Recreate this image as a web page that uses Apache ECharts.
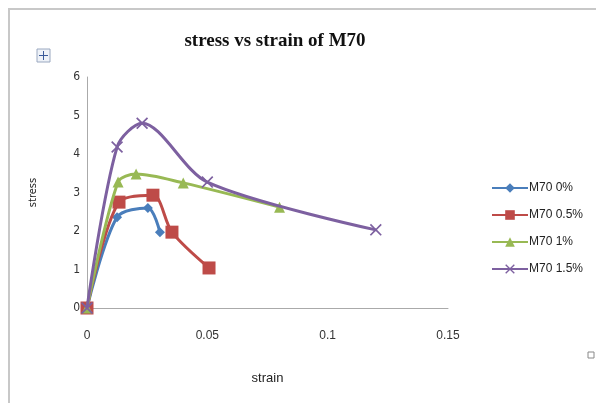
<!DOCTYPE html>
<html><head><meta charset="utf-8">
<script src="https://cdn.jsdelivr.net/npm/echarts@6/dist/echarts.min.js"></script>
<style>html,body{margin:0;padding:0;background:#fff}#c{width:596px;height:403px}</style>
</head><body><div id="c"></div>
<script>
const seriesNames = ['M70 0%', 'M70 0.5%', 'M70 1%', 'M70 1.5%'];
const m70_0 = [[0,0],[0.0125,2.36],[0.0253,2.6],[0.0303,1.97]];
const m70_05 = [[0,0],[0.0133,2.75],[0.0274,2.93],[0.0353,1.97],[0.0507,1.04]];
const m70_1 = [[0,0],[0.0129,3.27],[0.0204,3.48],[0.040,3.25],[0.080,2.62]];
const m70_15 = [[0,0],[0.0125,4.18],[0.0229,4.8],[0.050,3.27],[0.120,2.03]];
const xTicks = [0, 0.05, 0.1, 0.15];
const yTicks = [0,1,2,3,4,5,6];

const colors = ['#4a7ebb','#be4b48','#98b954','#7d60a0'];
const xPath = 'path://M0,1L1,0L5,4L9,0L10,1L6,5L10,9L9,10L5,6L1,10L0,9L4,5Z';
const symbols = ['diamond','rect','triangle',xPath];
const sizes = [10,13,11,12];
const datas = [m70_0, m70_05, m70_1, m70_15];
const narrow = "'DejaVu Sans Condensed', 'Liberation Sans', sans-serif";

const chart = echarts.init(document.getElementById('c'));
chart.setOption({
  animation:false,
  backgroundColor:'#fff',
  title:{text:'stress vs strain of M70', left:270, top:27, textAlign:'center',
    textStyle:{fontFamily:'Liberation Serif', fontWeight:'bold', fontSize:19, color:'#111'}},
  legend:{orient:'vertical', left:486, top:177, itemGap:15, itemWidth:36, itemHeight:12,
    data: seriesNames,
    textStyle:{fontFamily:'Liberation Sans', fontSize:12, color:'#222', padding:[0,0,0,-4]}},
  grid:{left:87, top:77, right:148, bottom:95},
  xAxis:{type:'value', min:xTicks[0], max:xTicks[xTicks.length-1], interval:0.05,
    name:'strain', nameLocation:'middle', nameGap:64,
    nameTextStyle:{fontFamily:'Liberation Sans', fontSize:13, color:'#222'},
    axisLine:{lineStyle:{color:'#aaa'}}, axisTick:{show:false}, splitLine:{show:false},
    axisLabel:{margin:22, fontFamily:'Liberation Sans', fontSize:12, color:'#333'}},
  yAxis:{type:'value', min:yTicks[0], max:yTicks[yTicks.length-1], interval:1,
    name:'stress', nameLocation:'middle', nameGap:48,
    nameTextStyle:{fontFamily:narrow, fontSize:11, color:'#222'},
    axisLine:{show:true, lineStyle:{color:'#aaa'}}, axisTick:{show:false}, splitLine:{show:false},
    axisLabel:{margin:7, fontFamily:narrow, fontSize:12, color:'#333'}},
  series: datas.map((d,i)=>({
    name: seriesNames[i], type:'line', data:d, smooth:0.3,
    symbol: symbols[i], symbolSize: sizes[i], showAllSymbol:true,
    lineStyle:{color:colors[i], width:3},
    itemStyle:{color:colors[i]},
    z: 2+i
  })),
  graphic:[
    {type:'rect', shape:{x:9, y:9, width:600, height:400}, style:{fill:'none', stroke:'#c8c8c8', lineWidth:2}},
    {type:'rect', shape:{x:37, y:49, width:13, height:13}, style:{fill:'#eef2f8', stroke:'#9aa8c0', lineWidth:1}},
    {type:'line', shape:{x1:39, y1:55.5, x2:48, y2:55.5}, style:{stroke:'#3a5a9a', lineWidth:1}},
    {type:'line', shape:{x1:43.5, y1:51, x2:43.5, y2:60}, style:{stroke:'#3a5a9a', lineWidth:1}},
    {type:'rect', shape:{x:588, y:352, width:6, height:6}, style:{fill:'none', stroke:'#888', lineWidth:1}}
  ]
});
</script></body></html>
